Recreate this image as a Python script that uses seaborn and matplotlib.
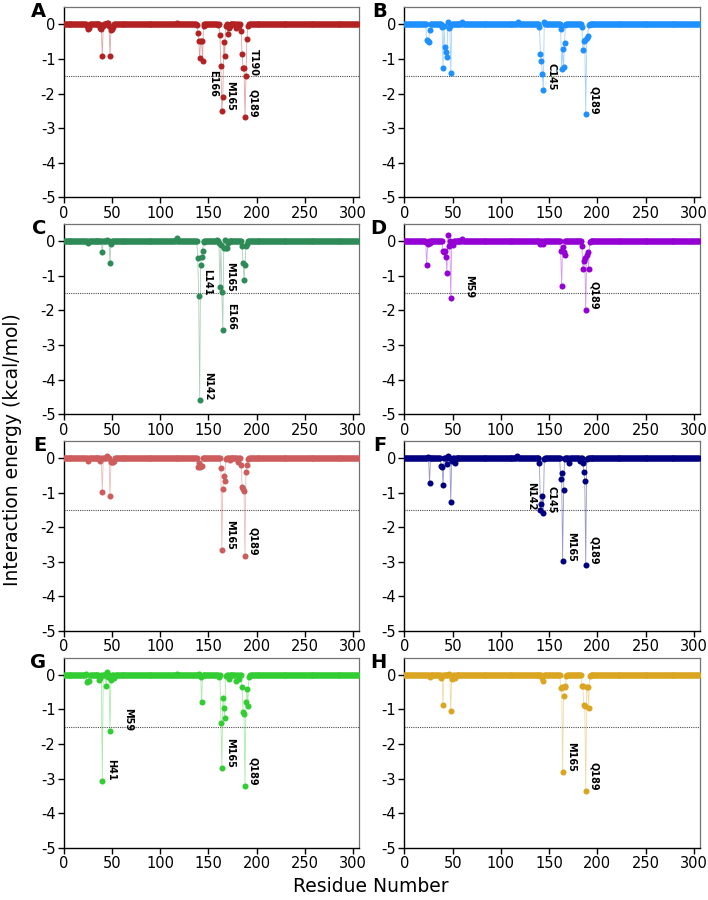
import numpy as np
import pandas as pd
import matplotlib
matplotlib.use('Agg')
import matplotlib.pyplot as plt
import seaborn as sns

n_res = 306

panels = ['A', 'B', 'C', 'D', 'E', 'F', 'G', 'H']
colors = ['#B22222', '#1E90FF', '#2E8B57', '#9400D3',
          '#CD5C5C', '#000080', '#32CD32', '#DAA520']

# residue index -> interaction energy (all other residues ~0)
a_idx = [24, 25, 26, 38, 39, 40, 41, 45, 46, 47, 48, 49, 50, 51, 117,
         138, 139, 140, 141, 142, 143, 144, 145, 160, 162, 163, 164, 165, 166, 167,
         168, 169, 170, 171, 172, 179, 182, 184, 185, 186, 187, 188, 189, 190, 191]
a_val = [-0.05, -0.12, -0.1, -0.1, -0.12, -0.9, -0.05, 0.03, 0.05, -0.05, -0.9, -0.15, -0.12, -0.08, 0.04,
         -0.02, -0.25, -0.47, -0.96, -0.47, -0.47, -1.06, -0.03, -0.02, -0.3, -1.21, -2.5, -2.1, -0.5, -0.9,
         -0.03, 0.02, -0.28, -0.1, -0.05, -0.1, -0.05, -0.18, -0.85, -1.27, -1.25, -2.68, -1.48, -0.41, -0.03]
a_lab = [('E166', 165, 'l'), ('M165', 164, 'r'), ('T190', 189, 'r'), ('Q189', 188, 'r')]

b_idx = [18, 23, 24, 25, 26, 39, 40, 41, 42, 43, 44, 45, 46, 47, 48, 60, 118,
         140, 141, 142, 143, 144, 145, 162, 163, 164, 165, 166, 167,
         184, 185, 186, 187, 188, 189, 190, 191]
b_val = [0.02, -0.46, -0.49, -0.51, -0.17, -0.08, -1.26, -0.05, -0.64, -0.81, -0.94, 0.07, -0.11, -0.05, -1.4, 0.06, 0.06,
         -0.07, -0.86, -1.05, -1.44, -1.9, 0.07, -0.14, -1.28, -0.71, -1.24, -0.54, -0.02,
         -0.07, -0.74, -0.47, -0.45, -2.6, -0.38, -0.32, -0.02]
b_lab = [('C145', 144, 'r'), ('Q189', 188, 'r')]

c_idx = [25, 40, 45, 48, 49, 116, 117,
         139, 140, 141, 142, 143, 144, 145, 159, 161, 162, 163, 164, 165, 166, 167, 168, 169, 170,
         185, 186, 187, 188, 189, 190]
c_val = [-0.05, -0.32, 0.05, -0.63, -0.08, 0.05, 0.1,
         -0.47, -1.57, -4.6, -0.69, -0.45, -0.27, -0.02, 0.05, -0.05, -1.33, -0.1, -1.47, -2.57, -0.18, 0.05, -0.2, -0.18, -0.05,
         -0.15, -0.64, -1.11, -0.69, -0.13, -0.08]
c_lab = [('L141', 140, 'r'), ('N142', 141, 'r'), ('M165', 164, 'r'), ('E166', 165, 'r')]

d_idx = [22, 23, 24, 26, 40, 41, 42, 43, 44, 45, 46, 48, 49, 50, 60, 141, 144,
         162, 163, 164, 165, 166, 184, 185, 186, 187, 188, 189, 190, 191, 192]
d_val = [-0.03, -0.68, -0.08, -0.05, -0.29, -0.3, -0.29, -0.45, -0.92, 0.17, -0.13, -1.64, -0.08, -0.1, 0.07, -0.08, -0.08,
         -0.29, -1.29, -0.17, -0.32, -0.4, -0.15, -0.81, -0.58, -0.49, -1.99, -0.39, -0.32, -0.79, -0.02]
d_lab = [('M59', 48, 'r'), ('Q189', 188, 'r')]

e_idx = [25, 38, 40, 45, 48, 49, 50, 51, 52, 139, 140, 141, 142, 143,
         163, 164, 165, 166, 167, 168, 172, 181, 184, 185, 186, 187, 188, 189, 190, 191]
e_val = [-0.08, -0.08, -0.98, 0.07, -1.1, -0.12, -0.1, -0.12, -0.08, -0.25, -0.15, -0.26, -0.22, -0.22,
         -0.28, -2.65, -0.88, -0.53, -0.65, -0.02, -0.05, -0.12, -0.2, -0.85, -0.9, -0.95, -2.82, -0.39, -0.2, -0.02]
e_lab = [('M165', 164, 'r'), ('Q189', 188, 'r')]

f_idx = [24, 26, 38, 39, 40, 44, 45, 48, 49, 52, 117,
         140, 141, 142, 143, 144, 145, 162, 163, 164, 165, 166, 171, 182,
         185, 186, 187, 188, 189]
f_val = [0.04, -0.73, -0.22, -0.25, -0.79, -0.17, 0.07, -1.26, -0.08, -0.13, 0.05,
         -0.15, -1.5, -1.34, -1.1, -1.6, -0.02, -0.59, -0.44, -2.99, -0.93, -0.02, -0.15, -0.08,
         -0.15, -0.39, -0.66, -3.08, -0.02]
f_lab = [('N142', 141, 'l'), ('C145', 144, 'r'), ('M165', 164, 'r'), ('Q189', 188, 'r')]

g_idx = [23, 24, 25, 26, 37, 38, 40, 44, 45, 46, 48, 49, 52, 118, 140, 142, 143,
         161, 163, 164, 165, 166, 167, 168, 171, 179, 182,
         185, 186, 187, 188, 189, 190, 191, 192]
g_val = [0.03, -0.21, -0.19, -0.19, -0.14, -0.1, -3.07, -0.31, 0.08, -0.05, -1.63, -0.14, -0.1, 0.03, 0.04, -0.07, -0.79,
         -0.07, -1.38, -2.7, -0.68, -0.97, -1.24, -0.02, -0.12, -0.19, -0.12,
         -0.36, -1.08, -1.13, -3.21, -0.79, -0.41, -0.89, -0.05]
g_lab = [('H41', 40, 'r'), ('M59', 48, 'r'), ('M165', 164, 'r'), ('Q189', 188, 'r')]

h_idx = [26, 38, 40, 46, 48, 49, 52, 143, 144,
         162, 163, 164, 165, 166, 167, 168, 184, 185, 186, 187, 188, 189, 190, 191, 192]
h_val = [-0.07, -0.1, -0.88, 0.03, -1.05, -0.12, -0.1, -0.1, -0.19,
         -0.37, -0.36, -2.81, -0.61, -0.35, -0.31, -0.02, -0.33, -0.33, -0.88, -0.9, -3.35, -0.34, -0.34, -0.97, -0.02]
h_lab = [('M165', 164, 'r'), ('Q189', 188, 'r')]

all_idx = [a_idx, b_idx, c_idx, d_idx, e_idx, f_idx, g_idx, h_idx]
all_val = [a_val, b_val, c_val, d_val, e_val, f_val, g_val, h_val]
all_lab = [a_lab, b_lab, c_lab, d_lab, e_lab, f_lab, g_lab, h_lab]

sns.set_style('ticks')
plt.rcParams['font.family'] = ['DejaVu Sans']
plt.rcParams['axes.unicode_minus'] = False
plt.rcParams['text.color'] = 'black'
plt.rcParams['xtick.color'] = 'black'
plt.rcParams['ytick.color'] = 'black'

fig, axes = plt.subplots(4, 2, figsize=(7.08, 9.0), dpi=100)
fig.subplots_adjust(left=0.09, right=0.988, bottom=0.058, top=0.992, wspace=0.155, hspace=0.14)

for ax, name, col, idx, val, labs in zip(axes.flat, panels, colors, all_idx, all_val, all_lab):
    energy = np.zeros(n_res)
    energy[idx] = val
    df = pd.DataFrame({'res': np.arange(n_res), 'energy': energy})
    sns.lineplot(data=df, x='res', y='energy', ax=ax, color=col, lw=0.6, alpha=0.4, zorder=2)
    sns.scatterplot(data=df, x='res', y='energy', ax=ax, color=col, s=19, linewidth=0, zorder=3)
    ax.axhline(-1.5, color='0.3', ls=(0, (1, 1)), lw=0.8, zorder=1)

    # residue labels, read top-to-bottom, ending at the point
    for lab, i, side in labs:
        y0 = energy[i]
        if side == 'r':
            ax.text(int(lab[1:]) + 2.5, y0, lab, rotation=270, ha='left', va='bottom',
                    fontsize=7, fontweight='bold', zorder=4)
        else:
            ax.text(i - 4.5, y0, lab, rotation=270, ha='right', va='bottom',
                    fontsize=7, fontweight='bold', zorder=4)

    ax.set_xlim(0, 306)
    ax.set_ylim(-5, 0.5)
    ax.set_xticks([0, 50, 100, 150, 200, 250, 300])
    ax.set_yticks([0, -1, -2, -3, -4, -5])
    ax.set_xlabel('')
    ax.set_ylabel('')
    ax.tick_params(direction='out', length=4.5, width=1, labelsize=10.5, pad=1.5)
    for s in ['left', 'bottom']:
        ax.spines[s].set_color('black')
        ax.spines[s].set_linewidth(1)
    for s in ['top', 'right']:
        ax.spines[s].set_color('0.45')
        ax.spines[s].set_linewidth(0.9)
    ax.text(-0.06, 1.025, name, transform=ax.transAxes, ha='right', va='top',
            fontsize=14, fontweight='bold')

fig.text(0.017, 0.5, 'Interaction energy (kcal/mol)', rotation=90, ha='center', va='center', fontsize=13.5)
fig.text(0.524, 0.004, 'Residue Number', ha='center', va='bottom', fontsize=13.5)

plt.savefig('out.png', dpi=100)
